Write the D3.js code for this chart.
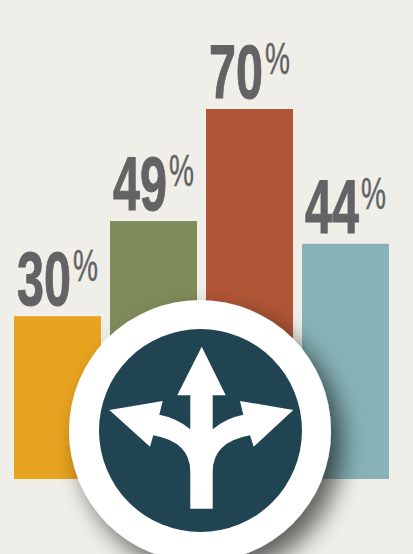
<!DOCTYPE html>
<html>
<head>
<meta charset="utf-8">
<script src="https://cdn.jsdelivr.net/npm/d3@7"></script>
<style>
  html, body { margin: 0; padding: 0; background: #efeee8; overflow: hidden; }
  svg { display: block; }
</style>
</head>
<body>
<div id="chart"></div>
<script>
let width = 413;
let height = 554;

// bar heights, labels as printed on it
let categories = ["a", "b", "c", "d"];
let barValues = [30.8, 48.8, 70, 44.5];
let labels = ["30", "49", "70", "44"];
let colors = ["#e8a320", "#7f8b5a", "#b05636", "#87b3b8"];

let svg = d3.select("#chart")
  .append("svg")
    .attr("width", width)
    .attr("height", height)

let xScale = d3.scaleBand().domain(categories).range([14, 389]).paddingInner(0.094)
let yScale = d3.scaleLinear().domain([0, 70]).range([479, 109])

svg.selectAll(".bar").data(barValues).enter()
  .append("rect")
    .attr("class", "bar")
    .attr("x", (d, i) => xScale(categories[i]))
    .attr("y", d => yScale(d))
    .attr("width", xScale.bandwidth())
    .attr("height", d => yScale(0) - yScale(d))
    .attr("fill", (d, i) => colors[i])

// number and raised % sign sit in one text element
let labelText = svg.selectAll(".label").data(barValues).enter()
  .append("text")
    .attr("class", "label")
    .attr("transform", (d, i) => "translate(" + xScale(categories[i]) + "," + yScale(d) + ")")
    .style("font-family", "'Liberation Sans Narrow', 'Liberation Sans', sans-serif")
    .attr("fill", "#636366")
    .attr("stroke", "#636366")

labelText.append("tspan")
    .attr("x", 3)
    .attr("y", -11)
    .attr("textLength", 54)
    .attr("lengthAdjust", "spacingAndGlyphs")
    .style("font-weight", "bold")
    .style("font-size", "76px")
    .attr("stroke-width", 1)
    .text((d, i) => labels[i])

labelText.append("tspan")
    .attr("x", 59)
    .attr("y", -35)
    .attr("textLength", 25)
    .attr("lengthAdjust", "spacingAndGlyphs")
    .style("font-size", "44px")
    .attr("stroke-width", 0.4)
    .text("%")

// shadow under the badge
let filter = svg.append("defs").append("filter")
    .attr("id", "badgeShadow")
    .attr("x", "-30%")
    .attr("y", "-30%")
    .attr("width", "160%")
    .attr("height", "160%")
filter.append("feDropShadow")
    .attr("dx", 11)
    .attr("dy", 13)
    .attr("stdDeviation", 12)
    .attr("flood-color", "#000")
    .attr("flood-opacity", 0.6)

svg.append("circle")
    .attr("cx", 200)
    .attr("cy", 431)
    .attr("r", 131)
    .attr("fill", "#fff")
    .attr("filter", "url(#badgeShadow)")

svg.append("circle")
    .attr("cx", 200.5)
    .attr("cy", 430.5)
    .attr("r", 101.5)
    .attr("fill", "#204452")

// three way arrow icon
svg.append("path")
    .attr("fill", "#fff")
    .attr("d", "M201.7 346.7 L225.7 395.3 L212.7 395.3 L212.7 429.3 Q226 418 243.3 414.7 L240 401 L293.3 410 L253.7 446.7 L250 435.3 Q212.7 442 212.7 471.7 L212.7 508.7 L190.3 508.7 L190.3 471.7 Q190.3 442 153.3 435.3 L150 446.7 L109.3 410 L162.7 401 L159.3 414.7 Q177 418 190.3 429.3 L190.3 395.3 L177.3 395.3 Z")
</script>
</body>
</html>
